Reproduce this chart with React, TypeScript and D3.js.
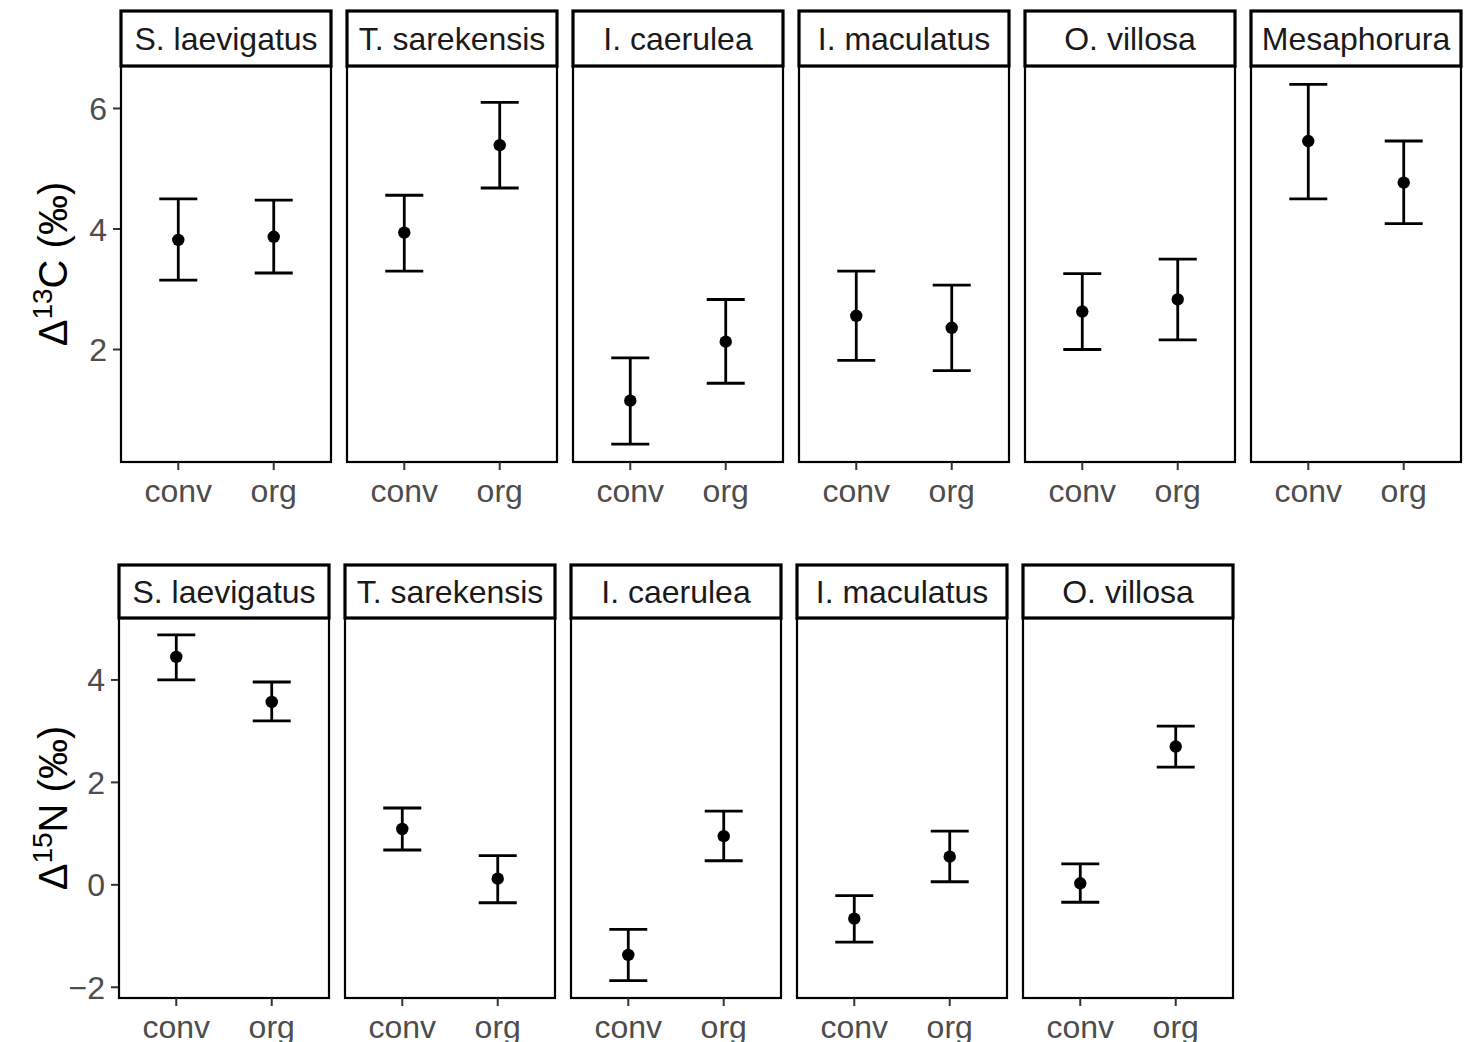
import React, { useEffect, useRef } from 'react';
import * as d3 from 'd3';

const treatments = ['conv', 'org'];

const speciesC = ['S. laevigatus', 'T. sarekensis', 'I. caerulea', 'I. maculatus', 'O. villosa', 'Mesaphorura'];
const meanC = [[3.82, 3.87], [3.94, 5.39], [1.15, 2.13], [2.56, 2.36], [2.63, 2.83], [5.46, 4.77]];
const lowerC = [[3.15, 3.27], [3.30, 4.68], [0.43, 1.44], [1.82, 1.65], [2.00, 2.16], [4.50, 4.09]];
const upperC = [[4.50, 4.48], [4.56, 6.10], [1.86, 2.83], [3.30, 3.07], [3.26, 3.50], [6.40, 5.46]];
const ticksC = [2, 4, 6];

const speciesN = ['S. laevigatus', 'T. sarekensis', 'I. caerulea', 'I. maculatus', 'O. villosa'];
const meanN = [[4.45, 3.57], [1.09, 0.12], [-1.37, 0.95], [-0.66, 0.55], [0.03, 2.70]];
const lowerN = [[4.00, 3.20], [0.68, -0.35], [-1.87, 0.47], [-1.12, 0.06], [-0.34, 2.30]];
const upperN = [[4.88, 3.96], [1.50, 0.57], [-0.87, 1.44], [-0.21, 1.05], [0.41, 3.10]];
const ticksN = [-2, 0, 2, 4];

const WIDTH = 1468;
const HEIGHT = 1042;
const FONT = "'Liberation Sans', Arial, sans-serif";

interface RowSpec {
  species: string[];
  mean: number[][];
  lower: number[][];
  upper: number[][];
  ticks: number[];
  domain: [number, number];
  left: number;
  stripTop: number;
  panelTop: number;
  panelBottom: number;
  iso: string;
  element: string;
}

const rows: RowSpec[] = [
  {
    species: speciesC, mean: meanC, lower: lowerC, upper: upperC, ticks: ticksC,
    domain: [0.133, 6.705], left: 121, stripTop: 11, panelTop: 66, panelBottom: 462,
    iso: '13', element: 'C',
  },
  {
    species: speciesN, mean: meanN, lower: lowerN, upper: upperN, ticks: ticksN,
    domain: [-2.21, 5.21], left: 119, stripTop: 565, panelTop: 618, panelBottom: 998,
    iso: '15', element: 'N',
  },
];

const App: React.FC = () => {
  const svgRef = useRef<SVGSVGElement>(null);

  useEffect(() => {
    if (!svgRef.current) return;
    const svg = d3.select(svgRef.current);
    svg.selectAll('*').remove();

    const panelWidth = 210;
    const panelStep = 226;

    rows.forEach(row => {
      const y = d3.scaleLinear().domain(row.domain).range([row.panelBottom, row.panelTop]);
      const fmt = d3.format('d');

      // y axis title
      const title = svg.append('text')
        .attr('transform', `translate(67,${(row.panelTop + row.panelBottom) / 2}) rotate(-90)`)
        .attr('text-anchor', 'middle')
        .attr('font-family', FONT)
        .attr('font-size', 40)
        .attr('fill', '#000');
      title.append('tspan').text('\u0394');
      title.append('tspan').attr('font-size', 28).attr('dy', -15).text(row.iso);
      title.append('tspan').attr('dy', 15).text(`${row.element} (\u2030)`);

      // y ticks (left of first panel only)
      row.ticks.forEach(t => {
        svg.append('line')
          .attr('x1', row.left - 8).attr('x2', row.left)
          .attr('y1', y(t)).attr('y2', y(t))
          .attr('stroke', '#333').attr('stroke-width', 2);
        svg.append('text')
          .attr('x', row.left - 14).attr('y', y(t))
          .attr('dy', '0.36em')
          .attr('text-anchor', 'end')
          .attr('font-family', FONT).attr('font-size', 32)
          .attr('fill', '#4D4D4D')
          .text(fmt(t));
      });

      row.species.forEach((sp, i) => {
        const x0 = row.left + i * panelStep;
        const x = d3.scalePoint().domain(treatments).range([x0, x0 + panelWidth]).padding(0.6);
        const g = svg.append('g');

        // panel
        g.append('rect')
          .attr('x', x0).attr('y', row.panelTop)
          .attr('width', panelWidth).attr('height', row.panelBottom - row.panelTop)
          .attr('fill', '#fff').attr('stroke', '#000').attr('stroke-width', 2.2);

        // strip
        g.append('rect')
          .attr('x', x0).attr('y', row.stripTop)
          .attr('width', panelWidth).attr('height', row.panelTop - row.stripTop)
          .attr('fill', '#fff').attr('stroke', '#000').attr('stroke-width', 3.2);
        g.append('text')
          .attr('x', x0 + panelWidth / 2).attr('y', (row.stripTop + row.panelTop) / 2)
          .attr('dy', '0.36em')
          .attr('text-anchor', 'middle')
          .attr('font-family', FONT).attr('font-size', 32)
          .attr('fill', '#1A1A1A')
          .text(sp);

        treatments.forEach((tr, j) => {
          const cx = x(tr)!;
          // x tick + label
          g.append('line')
            .attr('x1', cx).attr('x2', cx)
            .attr('y1', row.panelBottom).attr('y2', row.panelBottom + 8)
            .attr('stroke', '#333').attr('stroke-width', 2);
          g.append('text')
            .attr('x', cx).attr('y', row.panelBottom + 40)
            .attr('text-anchor', 'middle')
            .attr('font-family', FONT).attr('font-size', 32)
            .attr('fill', '#4D4D4D')
            .text(tr);

          // error bar
          const lo = row.lower[i][j];
          const hi = row.upper[i][j];
          const half = 19;
          g.append('line')
            .attr('x1', cx).attr('x2', cx)
            .attr('y1', y(lo)).attr('y2', y(hi))
            .attr('stroke', '#000').attr('stroke-width', 2.8);
          [lo, hi].forEach(v => {
            g.append('line')
              .attr('x1', cx - half).attr('x2', cx + half)
              .attr('y1', y(v)).attr('y2', y(v))
              .attr('stroke', '#000').attr('stroke-width', 2.8);
          });
          g.append('circle')
            .attr('cx', cx).attr('cy', y(row.mean[i][j]))
            .attr('r', 6.2)
            .attr('fill', '#000');
        });
      });
    });
  }, []);

  return (
    <div style={{ position: 'absolute', left: 0, top: 0 }}>
      <svg ref={svgRef} width={WIDTH} height={HEIGHT} style={{ display: 'block', background: '#fff' }} />
    </div>
  );
};

export default App;
